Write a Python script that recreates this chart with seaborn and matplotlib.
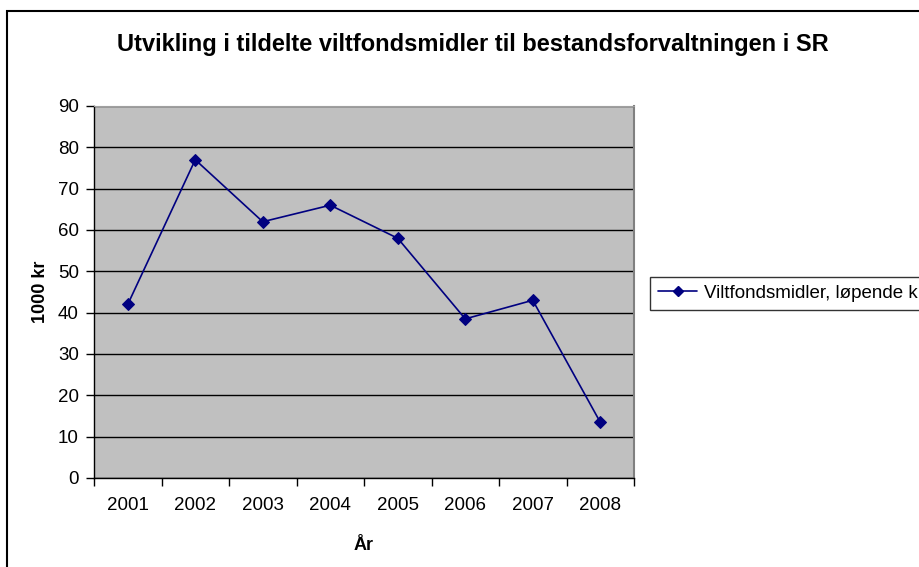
import numpy as np
import pandas as pd
import matplotlib
matplotlib.use("Agg")
import matplotlib.pyplot as plt
import seaborn as sns
from matplotlib.patches import Rectangle

# data
years = ["2001", "2002", "2003", "2004", "2005", "2006", "2007", "2008"]
values = [42, 77, 62, 66, 58, 38.5, 43, 13.5]
series_name = "Viltfondsmidler, løpende kr"

df = pd.DataFrame({"pos": np.arange(len(years)), "verdi": values, "serie": series_name})

sns.set_style("white")
plt.rcParams["font.family"] = ["Liberation Sans", "DejaVu Sans"]
plt.rcParams["text.color"] = "black"
plt.rcParams["axes.labelcolor"] = "black"
plt.rcParams["xtick.color"] = "black"
plt.rcParams["ytick.color"] = "black"

W, H = 919, 567
fig = plt.figure(figsize=(W / 100, H / 100), dpi=100)
ax = fig.add_axes([94 / W, 1 - 478 / H, (634 - 94) / W, (478 - 106) / H])
ax.set_facecolor("#C0C0C0")

sns.lineplot(data=df, x="pos", y="verdi", hue="serie", palette=["#000080"],
             marker="D", markersize=6.5, markeredgecolor="#000080",
             linewidth=1.2, ax=ax, legend=False)

# axes
ax.set_ylim(0, 90)
ax.set_yticks(np.arange(0, 91, 10))
ax.yaxis.grid(True, color="black", linewidth=1)
ax.set_axisbelow(True)
ax.set_xlim(-0.5, len(years) - 0.5)
ax.set_xticks(np.arange(-0.5, len(years), 1.0))
ax.set_xticklabels([])
ax.set_xticks(np.arange(len(years)), minor=True)
ax.set_xticklabels(years, minor=True)
ax.tick_params(axis="x", which="major", direction="out", length=6, width=1, color="black", bottom=True)
ax.tick_params(axis="x", which="minor", length=0, labelsize=13.5, pad=14)
ax.tick_params(axis="y", direction="out", length=6, width=1, color="black", left=True, labelsize=13.5, pad=5)

for s in ["left", "bottom"]:
    ax.spines[s].set_color("black")
    ax.spines[s].set_linewidth(1)
ax.spines["top"].set_color("#A0A0A0")
ax.spines["right"].set_color("#808080")
ax.spines["right"].set_linewidth(1.5)

ax.set_xlabel("År", fontsize=13, fontweight="bold", labelpad=16)
ax.set_ylabel("1000 kr", fontsize=13, fontweight="bold", labelpad=6)

fig.text(473 / W, 1 - 45 / H, "Utvikling i tildelte viltfondsmidler til bestandsforvaltningen i SR",
         ha="center", va="center", fontsize=17, fontweight="bold")

# legend
handle = plt.Line2D([], [], color="#000080", marker="D", markersize=5.5, linewidth=1.2)
leg = fig.legend([handle], [series_name], loc="upper left",
                 bbox_to_anchor=(650 / W, 1 - 277 / H), borderaxespad=0, fontsize=13.5,
                 frameon=True, fancybox=False, edgecolor="black",
                 handlelength=2.1, handletextpad=0.35, borderpad=0.42)
leg.get_frame().set_linewidth(1)

# outer chart border
fig.patches.append(Rectangle((7 / W, -0.05), 1.1, 1 - 11 / H + 0.05, transform=fig.transFigure,
                             fill=False, edgecolor="black", linewidth=1.5, clip_on=False))

fig.savefig("out.png", dpi=100)
